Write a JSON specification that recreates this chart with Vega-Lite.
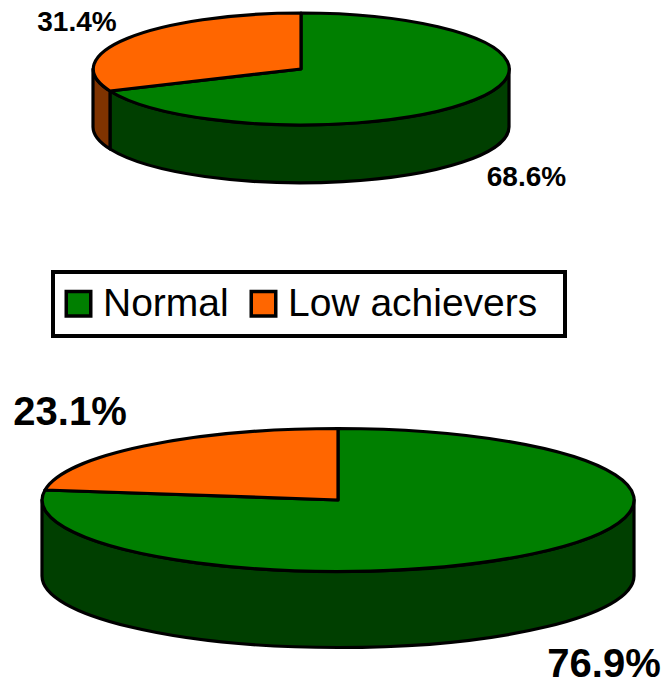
{
"$schema":"https://vega.github.io/schema/vega-lite/v6.json",
"width":664,"height":684,"padding":0,"autosize":"none","background":"white",
"config":{"view":{"stroke":null},"legend":{"strokeWidth":4}},
"data":{"values":[
{"pie":"Upper","category":"Normal","slice":"Upper Normal","percent":68.6,"label":"68.6%"},
{"pie":"Upper","category":"Low achievers","slice":"Upper Low achievers","percent":31.4,"label":"31.4%"},
{"pie":"Lower","category":"Normal","slice":"Lower Normal","percent":76.9,"label":"76.9%"},
{"pie":"Lower","category":"Low achievers","slice":"Lower Low achievers","percent":23.1,"label":"23.1%"}
]},
"encoding":{
"x":{"field":"pie","type":"nominal","axis":null,"scale":{"type":"point","padding":0,"domain":["Upper","Lower"],"range":[301,338]}},
"y":{"field":"pie","type":"nominal","axis":null,"scale":{"type":"point","padding":0,"domain":["Upper","Lower"],"range":[69,500]}}
},
"layer":[
{"transform":[{"filter":"datum.slice !== 'Lower Low achievers'"}],
"mark":{"type":"point","filled":true,"opacity":1,"stroke":"black","strokeWidth":3.2,"strokeJoin":"round","size":4},
"encoding":{
"fill":{"field":"category","type":"nominal","legend":null,"scale":{"domain":["Normal","Low achievers"],"range":["#003f00","#7f3300"]}},
"shape":{"field":"slice","type":"nominal","legend":null,"scale":{"domain":["Upper Normal","Upper Low achievers","Lower Normal"],"range":[
"M-191,22 A208,56 0 0 0 208,0 L208,58 A208,56 0 0 1 -191,80 Z",
"M-208,0 A208,56 0 0 0 -191,22 L-191,80 A208,56 0 0 1 -208,58 Z",
"M-296,0 A296,71.5 0 0 0 296,0 L296,76 A296,71.5 0 0 1 -296,76 Z"]}}
}},
{"mark":{"type":"point","filled":true,"opacity":1,"stroke":"black","strokeWidth":3.2,"strokeJoin":"round","size":4},
"encoding":{
"fill":{"field":"category","type":"nominal","scale":{"domain":["Normal","Low achievers"],"range":["#007f00","#ff6600"]},
"legend":{"title":"\u00a0","titleOrient":"right","titleFontSize":30,"titlePadding":16,"orient":"none","legendX":53,"legendY":272,"direction":"horizontal","columns":2,"padding":12,"columnPadding":15,"symbolType":"square","symbolSize":600,"symbolOffset":-6,"symbolStrokeColor":"black","symbolStrokeWidth":3.5,"labelFont":"Liberation Sans","labelFontSize":39,"labelColor":"black","labelOffset":5,"labelLimit":400,"strokeColor":"black","fillColor":"white"}},
"shape":{"field":"slice","type":"nominal","legend":null,"scale":{"domain":["Upper Normal","Upper Low achievers","Lower Normal","Lower Low achievers"],"range":[
"M0,0 L0,-56 A208,56 0 1 1 -191,22 Z",
"M0,0 L-191,22 A208,56 0 0 1 0,-56 Z",
"M0,0 L0,-71.5 A296,71.5 0 1 1 -293,-10 Z",
"M0,0 L-293,-10 A296,71.5 0 0 1 0,-71.5 Z"]}}
}},
{"transform":[{"filter":"datum.slice === 'Upper Low achievers'"}],
"mark":{"type":"text","font":"Liberation Sans","fontWeight":"bold","fontSize":28,"align":"center","baseline":"alphabetic","dx":-224,"dy":-38,"color":"black"},
"encoding":{"text":{"field":"label"}}},
{"transform":[{"filter":"datum.slice === 'Upper Normal'"}],
"mark":{"type":"text","font":"Liberation Sans","fontWeight":"bold","fontSize":28,"align":"center","baseline":"alphabetic","dx":225.5,"dy":117,"color":"black"},
"encoding":{"text":{"field":"label"}}},
{"transform":[{"filter":"datum.slice === 'Lower Low achievers'"}],
"mark":{"type":"text","font":"Liberation Sans","fontWeight":"bold","fontSize":40,"align":"center","baseline":"alphabetic","dx":-268,"dy":-75,"color":"black"},
"encoding":{"text":{"field":"label"}}},
{"transform":[{"filter":"datum.slice === 'Lower Normal'"}],
"mark":{"type":"text","font":"Liberation Sans","fontWeight":"bold","fontSize":40,"align":"center","baseline":"alphabetic","dx":266,"dy":177,"color":"black"},
"encoding":{"text":{"field":"label"}}}
],
"resolve":{"scale":{"fill":"independent","shape":"independent"}}
}
